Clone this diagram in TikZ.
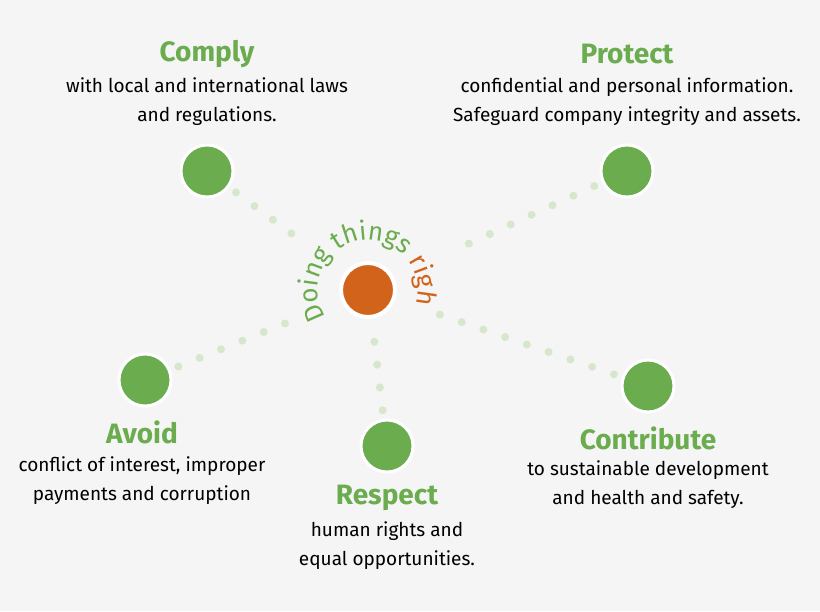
\documentclass[tikz,border=0pt]{standalone}
\usepackage{fontspec}
\setmainfont{Fira Sans}
\usetikzlibrary{decorations.text}
\definecolor{leaf}{HTML}{6AAC4E}
\definecolor{rust}{HTML}{D2631A}
\definecolor{paper}{HTML}{F5F5F5}
\definecolor{mist}{HTML}{D6E7CC}
\tikzset{
  dot/.style={circle,fill=leaf,draw=white,line width=3pt,minimum size=52pt,inner sep=0pt},
  hub/.style={circle,fill=rust,draw=white,line width=4pt,minimum size=54pt,inner sep=0pt},
  title/.style={text=leaf,font=\fontsize{28}{30}\selectfont\bfseries},
  blurb/.style={align=center,font=\fontsize{19}{29}\selectfont},
  trail/.style={mist,line width=8pt,line cap=round,dash pattern=on 0pt off 23pt,shorten <=36pt}
}
\begin{document}
\begin{tikzpicture}[x=1pt,y=-1pt]
\fill[paper] (0,0) rectangle (820,611);
\useasboundingbox (0,0) rectangle (820,611);

\node[hub] (core) at (368,290) {};
\node[dot] (comply) at (207,171) {};
\node[dot] (protect) at (627,171) {};
\node[dot] (avoid) at (145,380) {};
\node[dot] (respect) at (387,446) {};
\node[dot] (contribute) at (648,386) {};

% dotted trails
\foreach \leaf/\gap in {comply/78,protect/104,avoid/74,respect/40,contribute/72}
  \draw[trail,shorten >=\gap pt] (\leaf.center) -- (core.center);

% arc text
\path[decorate,decoration={text along path,text align=center,
  text={|\fontsize{26}{26}\selectfont\color{leaf}|Doing things |\fontsize{26}{26}\selectfont\color{rust}|right}}]
  (core) ++(-203:50) arc[start angle=-203,end angle=17,radius=50];

\node[title] (tcomply) at (207,54) {Comply};
\node[blurb,anchor=north] at (207,74) {with local and international laws\\and regulations.};
\node[title] (tprotect) at (627,54) {Protect};
\node[blurb,anchor=north] at (627,74) {confidential and personal information.\\Safeguard company integrity and assets.};
\node[title] (tavoid) at (142,432) {Avoid};
\node[blurb,anchor=north] at (142,453) {conflict of interest, improper\\payments and corruption};
\node[title] (trespect) at (387,498) {Respect};
\node[blurb,anchor=north] at (387,518) {human rights and\\equal opportunities.};
\node[title] (tcontribute) at (648,438) {Contribute};
\node[blurb,anchor=north] at (648,457) {to sustainable development\\and health and safety.};
\end{tikzpicture}
\end{document}
